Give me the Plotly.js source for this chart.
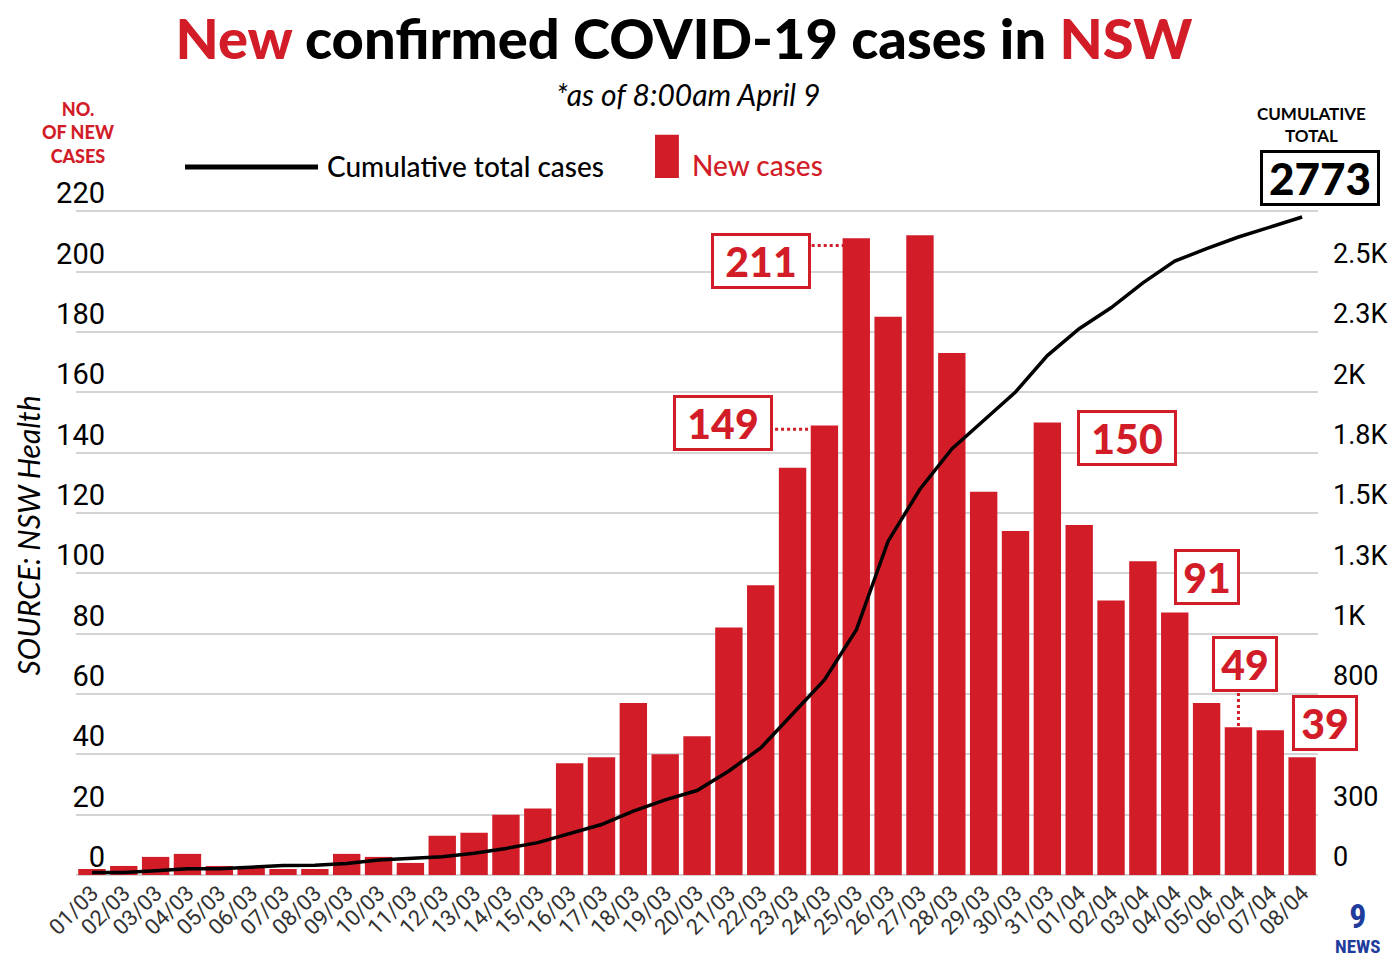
<!DOCTYPE html>
<html>
<head>
<meta charset="utf-8">
<script src="https://cdn.plot.ly/plotly-3.0.1.min.js"></script>
<style>
  html, body { margin: 0; padding: 0; background: #fff; }
  #chart { width: 1396px; height: 963px; }
</style>
</head>
<body>
<div id="chart"></div>
<script>
// dates shown on the x axis
var dates = ['01/03','02/03','03/03','04/03','05/03','06/03','07/03','08/03','09/03','10/03',
  '11/03','12/03','13/03','14/03','15/03','16/03','17/03','18/03','19/03','20/03',
  '21/03','22/03','23/03','24/03','25/03','26/03','27/03','28/03','29/03','30/03',
  '31/03','01/04','02/04','03/04','04/04','05/04','06/04','07/04','08/04'];

// new cases per day (bars)
var newCases = [2,3,6,7,3,3,2,2,7,6,
  4,13,14,20,22,37,39,57,40,46,
  82,96,135,149,211,185,212,173,127,114,
  150,116,91,104,87,57,49,48,39];

// cumulative total (line, right axis)
var cumulative = [10,10,18,26,26,32,39,40,48,62,
  68,76,90,110,134,172,209,265,311,350,
  431,526,665,808,1015,1383,1598,1765,1883,2001,
  2152,2263,2350,2453,2543,2595,2643,2685,2726];

// axis ticks
var leftTicks = [0,20,40,60,80,100,120,140,160,180,200,220];
var rightTickVals = [0,250,750,1000,1250,1500,1750,2000,2250,2500];
var rightTickText = ['0','300','800','1K','1.3K','1.5K','1.8K','2K','2.3K','2.5K'];

var red = '#d21d29';
var boxFont = {family: 'Lato', size: 41, color: red, weight: 900};

//bars
var bars = {
  x: dates,
  y: newCases,
  type: 'bar',
  marker: {color: red, line: {width: 0}},
  hoverinfo: 'skip'
};
//cumulative line on the second axis
var line = {
  x: dates,
  y: cumulative,
  yaxis: 'y2',
  type: 'scatter',
  mode: 'lines',
  line: {color: '#000', width: 3.5},
  hoverinfo: 'skip'
};

//red number boxes (xshift is used when the box sits past the last category)
function callout(txt, x, y, xshift) {
  return {
    x: x, y: y, xref: 'x', yref: 'y', text: txt, showarrow: false,
    xanchor: 'center', yanchor: 'middle', xshift: xshift || 0,
    width: txt.length > 2 ? 94 : 60, height: 50,
    font: boxFont, bgcolor: '#fff', bordercolor: red, borderwidth: 3, borderpad: 0
  };
}
//text placed on the page outside the plot
function label(txt, x, y, font, extra) {
  var a = {x: x, y: y, xref: 'paper', yref: 'paper', text: txt, showarrow: false,
    xanchor: 'center', yanchor: 'middle', font: font};
  for (var k in extra) a[k] = extra[k];
  return a;
}
//dotted leader lines
function dots(x0, y0, x1, y1) {
  return {type: 'line', xref: 'x', yref: 'y', x0: x0, y0: y0, x1: x1, y1: y1,
    line: {color: red, width: 3, dash: 'dot'}};
}

var annotations = [
  callout('212', 26.2, 223.5),
  callout('211', 21.0, 203.6),
  callout('149', 19.8, 149.7),
  callout('150', 32.5, 144.7),
  callout('91', 35.0, 98.7),
  callout('49', 36.2, 69.9),
  callout('39', 38.4, 50.3, 10),
  //total box
  label('2773', 0.9904, 1.048, {family: 'Lato', size: 44, color: '#000', weight: 900},
    {bgcolor: '#fff', bordercolor: '#000', borderwidth: 3, width: 114, height: 50, borderpad: 0}),
  label('CUMULATIVE<br>TOTAL', 0.9833, 1.128, {family: 'Lato', size: 17, color: '#000', weight: 700}),
  //subtitle
  label('<i>*as of 8:00am April 9</i>', 0.487, 1.175, {family: 'Lato', size: 30, color: '#000'}),
  //left axis header
  label('NO.<br>OF NEW<br>CASES', 0.0016, 1.117, {family: 'Lato', size: 18, color: red, weight: 900}),
  //legend texts
  label('Cumulative total cases', 0.198, 1.066, {family: 'Lato', size: 28, color: '#000', weight: 500},
    {xanchor: 'left'}),
  label('New cases', 0.489, 1.068, {family: 'Lato', size: 28, color: red, weight: 500},
    {xanchor: 'left'}),
  //source
  label('<i>SOURCE: NSW Health</i>', -0.038, 0.511, {family: 'Lato', size: 30, color: '#000'},
    {textangle: -90}),
  //logo
  label('<b><span style="font-size:34px">9</span><br>NEWS</b>', 1.0207, -0.078,
    {family: 'Roboto Condensed, Roboto', size: 19, color: '#1f3c9c'})
];

var shapes = [
  dots(22.6, 208.6, 24.3, 208.6),
  dots(24.3, 208.6, 24.3, 189),
  dots(21.45, 147.7, 23.0, 147.7),
  dots(23.0, 147.7, 23.0, 127.5),
  dots(36.0, 60.3, 36.0, 42),
  //legend marks
  {type: 'line', xref: 'paper', yref: 'paper', x0: 0.0868, x1: 0.1927, y0: 1.0647, y1: 1.0647,
    line: {color: '#000', width: 5}},
  {type: 'rect', xref: 'paper', yref: 'paper', x0: 0.461, x1: 0.480, y0: 1.048, y1: 1.113,
    fillcolor: red, line: {width: 0}}
];

var layout = {
  width: 1396,
  height: 963,
  margin: {l: 76, r: 64, t: 210, b: 88},
  paper_bgcolor: '#fff',
  plot_bgcolor: '#fff',
  showlegend: false,
  hovermode: false,
  bargap: 0.14,
  title: {
    text: '<span style="color:' + red + '">New</span> confirmed COVID-19 cases in <span style="color:' + red + '">NSW</span>',
    x: 0.49, xanchor: 'center', y: 0.9595, yanchor: 'middle', yref: 'container',
    font: {family: 'Lato', size: 56, color: '#000', weight: 900}
  },
  xaxis: {
    domain: [0, 0.9889],
    type: 'category',
    range: [-0.5, dates.length - 0.5],
    automargin: false,
    tickangle: -45,
    tickfont: {family: 'Roboto', size: 22, color: '#333'},
    showgrid: false,
    showline: false,
    zeroline: false,
    ticks: ''
  },
  yaxis: {
    range: [0, 220.4],
    automargin: false,
    tickvals: leftTicks,
    tickfont: {family: 'Roboto', size: 29, color: '#000'},
    gridcolor: '#d4d4d4',
    gridwidth: 2,
    zeroline: true,
    zerolinecolor: '#d4d4d4',
    zerolinewidth: 2,
    ticks: '',
    ticklabelshift: -18,
    ticklabelstandoff: -30
  },
  yaxis2: {
    overlaying: 'y',
    side: 'right',
    anchor: 'free',
    position: 1,
    automargin: false,
    range: [0, 2755],
    tickvals: rightTickVals,
    ticktext: rightTickText,
    tickfont: {family: 'Roboto', size: 27, color: '#000'},
    showgrid: false,
    zeroline: false,
    ticks: '',
    ticklabelshift: -18
  },
  annotations: annotations,
  shapes: shapes
};

Plotly.newPlot('chart', [bars, line], layout, {displayModeBar: false, staticPlot: true});
</script>
</body>
</html>
